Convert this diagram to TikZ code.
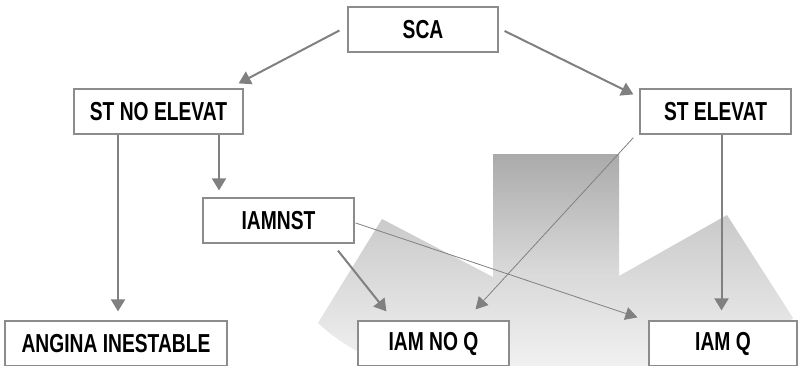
\documentclass[tikz,border=0pt]{standalone}
\usepackage{fontspec}
\setmainfont{Liberation Sans}[FakeStretch=0.74]
\usetikzlibrary{arrows.meta, calc}
\definecolor{linegray}{HTML}{808080}
\definecolor{boxgray}{HTML}{8C8C8C}

\begin{document}
\begin{tikzpicture}[x=1pt, y=-1pt,
        box/.style={draw=boxgray, line width=1.2pt, fill=white, minimum height=45, inner sep=0pt, font=\fontsize{26}{30}\selectfont\bfseries},
        thickarrow/.style={draw=linegray, line width=2pt, -{Triangle[length=12pt, width=14pt]}},
        thinarrow/.style={draw=linegray, line width=0.8pt, -{Triangle[length=12pt, width=13pt]}}]
        \useasboundingbox (0,0) rectangle (799,366);
        \clip (0,0) rectangle (799,366);
        
        \shade[top color=black!21, bottom color=white] (318,323) -- (382,219) -- (493,277) -- (619,276) -- (727,215) -- (793,318) .. controls (700,420) and (420,420) .. cycle;
        \shade[top color=black!33, bottom color=black!14] (493,155) rectangle (619,277);
        
        \node[box, minimum width=150] (sca) at (423,29.5) {SCA};
        \node[box, minimum width=169] (stno) at (158.5,111.5) {ST NO ELEVAT};
        \node[box, minimum width=151] (stel) at (715.5,111.5) {ST ELEVAT};
        \node[box, minimum width=151] (iamnst) at (278.5,220.5) {IAMNST};
        \node[box, minimum width=222] (angina) at (116,343.5) {ANGINA INESTABLE};
        \node[box, minimum width=151] (iamnoq) at (433.5,343.5) {IAM NO Q};
        \node[box, minimum width=148] (iamq) at (723,343.5) {IAM Q};
        
        \draw[thickarrow] ($(sca.west)+(-8,1)$) -- ($(stno.north east)+(-5,-5)$);
        \draw[thickarrow] ($(sca.east)+(6,1.5)$) -- ($(stel.north west)+(-6,6)$);
        
        \draw[thickarrow] ($(stno.south)+(-40.5,0)$) -- ($(angina.north)+(2,-9)$);
        \draw[thickarrow] ($(stno.south)+(60.5,0)$) -- ($(iamnst.north)+(-59.5,-7)$);
        \draw[thickarrow] ($(iamnst.south)+(59.5,7)$) -- ($(iamnoq.north west)+(29,-9)$);
        \draw[thinarrow] ($(iamnst.east)+(1,2.5)$) -- ($(iamq.north west)+(-11,-3)$);
        
        \draw[thinarrow] ($(stel.south west)+(-6,3)$) -- ($(iamnoq.north)+(42,-11)$);
        \draw[thickarrow] ($(stel.south)+(6,0)$) -- ($(iamq.north)+(-1.5,-10)$);
    \end{tikzpicture}
\end{document}
